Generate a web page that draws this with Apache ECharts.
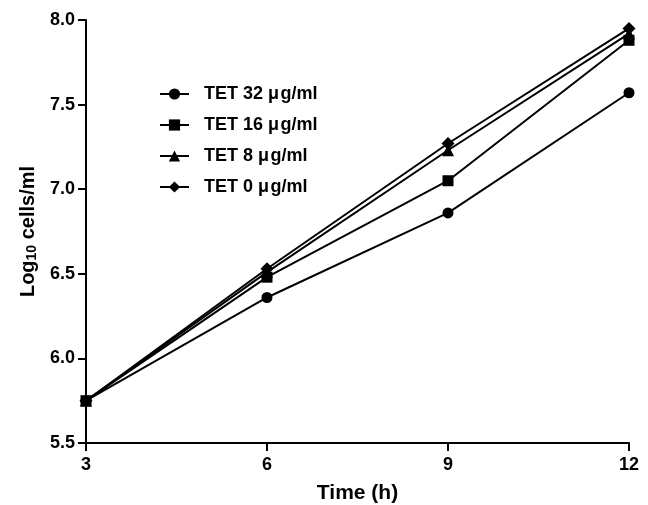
<!DOCTYPE html>
<html>

<head>
    <meta charset="utf-8" />
    <title>Growth curves</title>
    <script src="https://cdn.jsdelivr.net/npm/echarts@6.0.0/dist/echarts.min.js"></script>
    <style>
        body { margin: 0; background: #fff; }
        #main { width: 648px; height: 505px; }
    </style>
</head>

<body>
    <div id="main"></div>
    <script type="text/javascript">
        var times = [3, 6, 9, 12];
        var seriesNames = ['TET 32 \u03bc\u200ag/ml', 'TET 16 \u03bc\u200ag/ml', 'TET 8 \u03bc\u200ag/ml', 'TET 0 \u03bc\u200ag/ml'];
        var tet32 = [5.75, 6.36, 6.86, 7.57];
        var tet16 = [5.75, 6.48, 7.05, 7.88];
        var tet8 = [5.75, 6.51, 7.23, 7.92];
        var tet0 = [5.75, 6.53, 7.27, 7.95];
        var symbols = ['circle', 'rect', 'triangle', 'diamond'];
        var symbolSizes = [11, 11, 12, 13];

        var allValues = [tet32, tet16, tet8, tet0];
        var font = 'Liberation Sans, Arial, sans-serif';

        var myChart = echarts.init(document.getElementById('main'));

        var series = allValues.map(function (vals, i) {
            return {
                name: seriesNames[i],
                type: 'line',
                data: vals.map(function (v, k) { return [times[k], v]; }),
                symbol: symbols[i],
                symbolSize: symbolSizes[i],
                showAllSymbol: true,
                lineStyle: { color: '#000', width: 2 },
                itemStyle: { color: '#000' },
                z: 2 + i
            };
        });

        myChart.setOption({
            animation: false,
            grid: { left: 86, right: 19, top: 20, bottom: 62, outerBoundsMode: 'none' },
            legend: {
                orient: 'vertical',
                left: 154,
                top: 80,
                itemWidth: 29,
                itemHeight: 14,
                itemGap: 13,
                data: seriesNames,
                textStyle: {
                    fontFamily: font, fontWeight: 'bold', fontSize: 18,
                    color: '#000', padding: [0, 0, 0, 10]
                }
            },
            xAxis: {
                type: 'value',
                min: 3,
                max: 12,
                interval: 3,
                name: 'Time (h)',
                nameLocation: 'middle',
                nameGap: 40,
                nameTextStyle: { fontFamily: font, fontWeight: 'bold', fontSize: 21, color: '#000' },
                splitLine: { show: false },
                axisLine: { lineStyle: { color: '#000', width: 2 } },
                axisTick: { lineStyle: { color: '#000', width: 2 }, length: 8 },
                axisLabel: { fontFamily: font, fontWeight: 'bold', fontSize: 18, color: '#000', margin: 13 }
            },
            yAxis: {
                type: 'value',
                min: 5.5,
                max: 8.0,
                interval: 0.5,
                name: '{a|Log}{b|10}{a| cells/ml}',
                nameLocation: 'middle',
                nameGap: 46,
                nameTextStyle: {
                    rich: {
                        a: { fontFamily: font, fontWeight: 'bold', fontSize: 20, color: '#000' },
                        b: { fontFamily: font, fontWeight: 'bold', fontSize: 14, color: '#000', padding: [8, 0, 0, 0] }
                    }
                },
                splitLine: { show: false },
                axisLine: { lineStyle: { color: '#000', width: 2 } },
                axisTick: { lineStyle: { color: '#000', width: 2 }, length: 8 },
                axisLabel: {
                    fontFamily: font, fontWeight: 'bold', fontSize: 18, color: '#000', margin: 11,
                    formatter: function (v) { return v.toFixed(1); }
                }
            },
            series: series
        });
    </script>
</body>

</html>
